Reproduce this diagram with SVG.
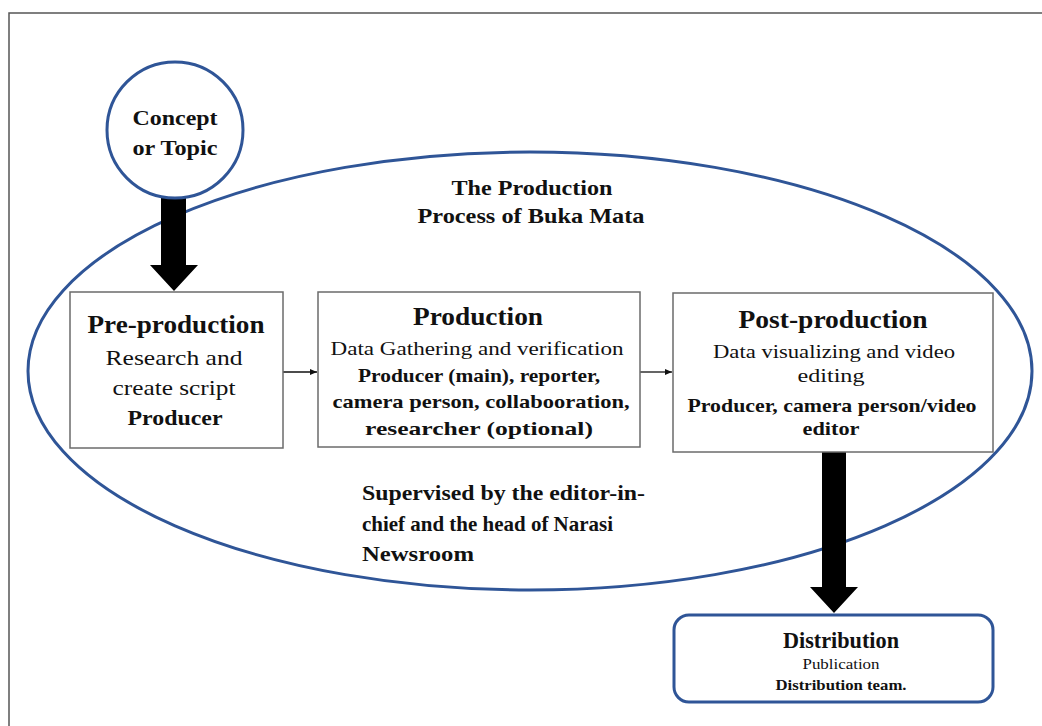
<svg xmlns="http://www.w3.org/2000/svg" width="1042" height="726" viewBox="0 0 1042 726">
<style>
text{font-family:"Liberation Serif","Times New Roman",serif;fill:#111;text-anchor:middle}
.b{font-weight:bold}
.box{fill:#fff;stroke:#6b6b6b;stroke-width:1.5}
.blue{fill:none;stroke:#2f5597;stroke-width:3}
.thin{stroke:#111;stroke-width:1.3;fill:none}
.big{fill:#000}
</style>
<defs>
<marker id="ah" markerWidth="8" markerHeight="8" refX="7" refY="4" orient="auto" markerUnits="userSpaceOnUse">
<path d="M0,1 L7,4 L0,7 Z" fill="#111"/>
</marker>
</defs>
<rect width="1042" height="726" fill="#fff"/>
<path d="M9,726 L9,13 L1042,13" fill="none" stroke="#555" stroke-width="1.5"/>
<g id="process-ellipse">
<ellipse cx="530" cy="371" rx="502" ry="219" class="blue"/>
<text class="b" x="532" y="195" font-size="21" textLength="161" lengthAdjust="spacingAndGlyphs">The Production</text>
<text class="b" x="531" y="223" font-size="21" textLength="227" lengthAdjust="spacingAndGlyphs">Process of Buka Mata</text>
</g>
<g id="supervised">
<text class="b" x="362" y="500" font-size="21" style="text-anchor:start" textLength="283" lengthAdjust="spacingAndGlyphs">Supervised by the editor-in-</text>
<text class="b" x="362" y="531" font-size="21" style="text-anchor:start" textLength="251" lengthAdjust="spacingAndGlyphs">chief and the head of Narasi</text>
<text class="b" x="362" y="561" font-size="21" style="text-anchor:start" textLength="112" lengthAdjust="spacingAndGlyphs">Newsroom</text>
</g>
<g id="connectors">
<path class="big" d="M161,196 L186,196 L186,265 L198,265 L174,291 L150,265 L161,265 Z"/>
<path class="big" d="M822,452 L846,452 L846,587 L858,587 L834,613 L810,587 L822,587 Z"/>
<line class="thin" x1="283" y1="372" x2="317" y2="372" marker-end="url(#ah)"/>
<line class="thin" x1="640" y1="372" x2="672" y2="372" marker-end="url(#ah)"/>
</g>
<g id="concept">
<circle cx="175" cy="130" r="68" fill="#fff" stroke="#2f5597" stroke-width="3"/>
<text class="b" x="175" y="125" font-size="22" textLength="85" lengthAdjust="spacingAndGlyphs">Concept</text>
<text class="b" x="175" y="155" font-size="22" textLength="85" lengthAdjust="spacingAndGlyphs">or Topic</text>
</g>
<g id="pre-production">
<rect class="box" x="70" y="292" width="213" height="156"/>
<text class="b" x="176" y="333" font-size="25" textLength="177" lengthAdjust="spacingAndGlyphs">Pre-production</text>
<text x="174" y="365" font-size="21" textLength="137" lengthAdjust="spacingAndGlyphs">Research and</text>
<text x="174" y="395" font-size="21" textLength="123" lengthAdjust="spacingAndGlyphs">create script</text>
<text class="b" x="175" y="425" font-size="21" textLength="95" lengthAdjust="spacingAndGlyphs">Producer</text>
</g>
<g id="production">
<rect class="box" x="318" y="292" width="322" height="155"/>
<text class="b" x="478" y="325" font-size="25" textLength="130" lengthAdjust="spacingAndGlyphs">Production</text>
<text x="477" y="355" font-size="19" textLength="293" lengthAdjust="spacingAndGlyphs">Data Gathering and verification</text>
<text class="b" x="479" y="382" font-size="19" textLength="242" lengthAdjust="spacingAndGlyphs">Producer (main), reporter,</text>
<text class="b" x="481" y="408" font-size="19" textLength="297" lengthAdjust="spacingAndGlyphs">camera person, collabooration,</text>
<text class="b" x="479" y="435" font-size="19" textLength="228" lengthAdjust="spacingAndGlyphs">researcher (optional)</text>
</g>
<g id="post-production">
<rect class="box" x="673" y="293" width="320" height="159"/>
<text class="b" x="833" y="328" font-size="25" textLength="189" lengthAdjust="spacingAndGlyphs">Post-production</text>
<text x="834" y="358" font-size="19" textLength="242" lengthAdjust="spacingAndGlyphs">Data visualizing and video</text>
<text x="831" y="382" font-size="19" textLength="67" lengthAdjust="spacingAndGlyphs">editing</text>
<text class="b" x="832" y="412" font-size="19" textLength="289" lengthAdjust="spacingAndGlyphs">Producer, camera person/video</text>
<text class="b" x="831" y="435" font-size="19" textLength="57" lengthAdjust="spacingAndGlyphs">editor</text>
</g>
<g id="distribution">
<rect x="674" y="615" width="319" height="87" rx="15" ry="15" fill="#fff" stroke="#2f5597" stroke-width="3"/>
<text x="841" y="648" font-size="23" font-weight="600" textLength="116" lengthAdjust="spacingAndGlyphs">Distribution</text>
<text x="841" y="669" font-size="15" textLength="77" lengthAdjust="spacingAndGlyphs">Publication</text>
<text class="b" x="841" y="690" font-size="15" textLength="131" lengthAdjust="spacingAndGlyphs">Distribution team.</text>
</g>
</svg>
